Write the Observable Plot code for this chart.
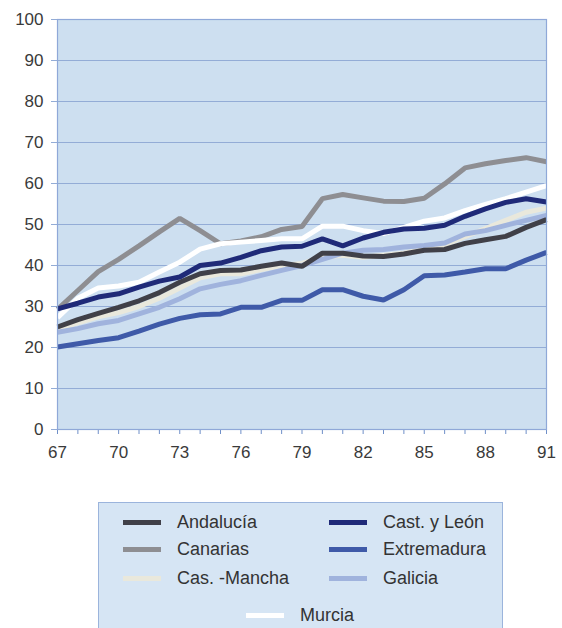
<!DOCTYPE html>
<html><head><meta charset="utf-8">
<script src="https://cdn.jsdelivr.net/npm/d3@7"></script>
<script src="https://cdn.jsdelivr.net/npm/@observablehq/plot@0.6"></script>
<style>
body{margin:0;background:#fff;font-family:"Liberation Sans",Arial,sans-serif;}
#wrap{position:relative;width:562px;height:628px;overflow:hidden;}
#legend{position:absolute;left:98px;top:502px;width:405px;height:140px;background:#d6e5f4;border:1px solid #9bb4dc;box-sizing:border-box;}
.item{position:absolute;font-size:18px;color:#333;line-height:20px;white-space:nowrap;}
.sw{position:absolute;width:38px;height:5px;}
</style></head>
<body><div id="wrap"><div id="chart"></div><div id="legend"></div></div>
<script>
const years = d3.range(67, 92);
const seriesNames = ["Andalucía","Canarias","Cas. -Mancha","Cast. y León","Extremadura","Galicia","Murcia"];
const colors = ["#404048","#8e8e92","#e9e8dc","#1f2a78","#3f5aa8","#a0b3dd","#ffffff"];
const andalucia = [25,26.8,28.3,29.8,31.4,33.4,35.9,38,38.8,38.9,39.8,40.6,39.8,43,43,42.3,42.2,42.8,43.7,43.9,45.4,46.3,47.1,49.3,51.2];
const canarias = [29.3,33.9,38.5,41.5,44.8,48.2,51.5,48.5,45.3,46,47,48.8,49.5,56.3,57.3,56.5,55.7,55.6,56.4,59.9,63.8,64.8,65.6,66.3,65.3];
const casMancha = [24.5,26,27.5,28.5,30,32,34.5,37,38,38,39,40,40.5,42,42.5,42,42.5,43,44,45,47,49,51,53,54];
const castLeon = [29.4,30.8,32.3,33.1,34.7,36.2,37.2,40,40.6,42,43.6,44.5,44.7,46.5,44.8,46.7,48.1,48.9,49.1,49.8,52,53.8,55.4,56.3,55.5];
const extremadura = [20.1,20.9,21.7,22.4,24,25.7,27.1,28,28.2,29.8,29.8,31.5,31.5,34.1,34.1,32.5,31.6,34.1,37.5,37.7,38.4,39.2,39.2,41.3,43.2];
const galicia = [23.7,24.6,25.8,26.6,28.2,29.8,31.9,34.3,35.4,36.3,37.6,38.8,40,41.5,43,43.7,43.9,44.5,44.9,45.5,47.7,48.5,49.8,51,52.2];
const murcia = [27.3,32,34.5,35,35.9,38.4,40.8,44,45.3,45.7,46.1,46.5,46.5,49.6,49.6,48.5,47.8,49.3,50.8,51.6,53.4,54.9,56.3,57.9,59.5];
const yTicks = [0,10,20,30,40,50,60,70,80,90,100];
const xLabelTicks = [67,70,73,76,79,82,85,88,91];

const valuesByName = {"Andalucía":andalucia,"Canarias":canarias,"Cas. -Mancha":casMancha,"Cast. y León":castLeon,"Extremadura":extremadura,"Galicia":galicia,"Murcia":murcia};
const drawOrder = ["Canarias","Murcia","Cas. -Mancha","Galicia","Extremadura","Andalucía","Cast. y León"];
const rows = [];
drawOrder.forEach(n => valuesByName[n].forEach((v,i) => rows.push({name:n, year:years[i], value:v})));

const chart = Plot.plot({
  width:562, height:470,
  marginLeft:57, marginRight:16, marginTop:19, marginBottom:41,
  style:{fontFamily:'"Liberation Sans",Arial,sans-serif', fontSize:"17px", color:"#3a3a3a", background:"transparent"},
  x:{domain:[67,91], label:null},
  y:{domain:[0,100], label:null},
  color:{domain:seriesNames, range:colors},
  marks:[
    Plot.frame({fill:"#cddff0", stroke:"none"}),
    Plot.gridY(yTicks.filter(d=>d>0&&d<100), {stroke:"#93acd6", strokeOpacity:1, strokeWidth:1}),
    Plot.axisY(yTicks, {tickSize:6, tickPadding:8, stroke:"#93acd6", fontSize:17, label:null}),
    Plot.axisX(years, {tickSize:5, tickFormat:()=>"", stroke:"#6f8fc8", label:null}),
    Plot.axisX(xLabelTicks, {tickSize:0, tickPadding:16, fontSize:17, label:null}),
    Plot.lineY(rows, {x:"year", y:"value", z:"name", stroke:"name", strokeWidth:5, strokeLinejoin:"miter", strokeLinecap:"butt"}),
    Plot.frame({stroke:"#8fa8d8", strokeWidth:1.2})
  ]
});
document.getElementById("chart").appendChild(chart);

const legend = document.getElementById("legend");
const legendPos = [
  ["Andalucía",24,19],["Cast. y León",230,19],
  ["Canarias",24,46],["Extremadura",230,46],
  ["Cas. -Mancha",24,75],["Galicia",230,75],
  ["Murcia",147,112]
];
legendPos.forEach(([n,x,y]) => {
  const c = colors[seriesNames.indexOf(n)];
  const sw = document.createElement("div");
  sw.className = "sw"; sw.style.left = x+"px"; sw.style.top = (y-2)+"px"; sw.style.background = c;
  legend.appendChild(sw);
  const t = document.createElement("div");
  t.className = "item"; t.textContent = n; t.style.left = (x+54)+"px"; t.style.top = (y-10)+"px";
  legend.appendChild(t);
});
</script></body></html>
